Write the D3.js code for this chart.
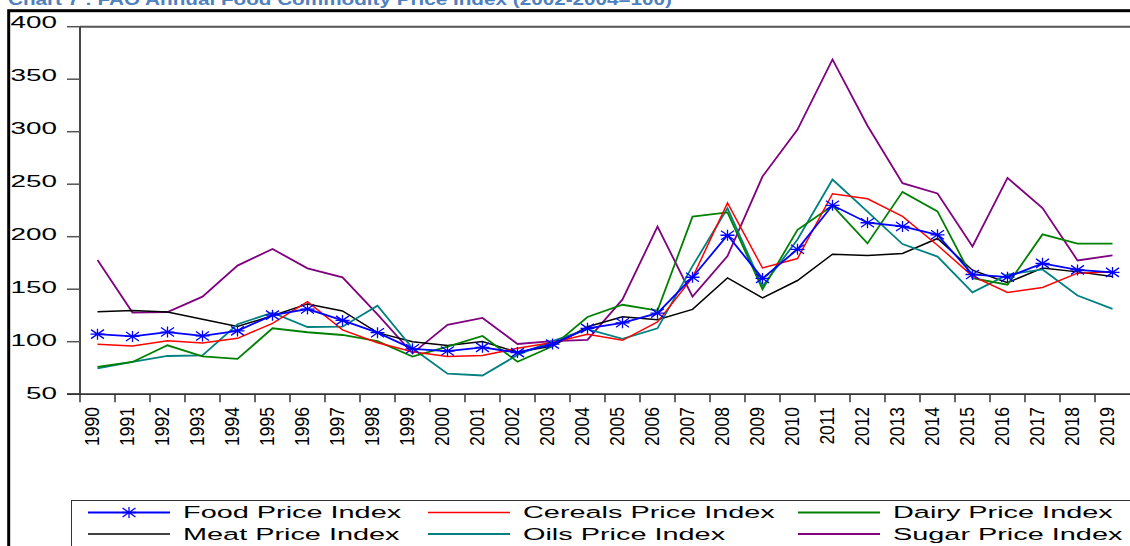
<!DOCTYPE html>
<html>
<head>
<meta charset="utf-8">
<script src="https://cdn.jsdelivr.net/npm/d3@7"></script>
<style>
  body { margin: 0; background: #fff; }
  svg { display: block; }
  text { font-family: "Liberation Sans", Arial, sans-serif; }
</style>
</head>
<body>
<svg id="chart" width="1130" height="546"></svg>
<script>
// FAO annual price indices (2002-2004 = 100)
const years = [1990, 1991, 1992, 1993, 1994, 1995, 1996, 1997, 1998, 1999,
               2000, 2001, 2002, 2003, 2004, 2005, 2006, 2007, 2008, 2009,
               2010, 2011, 2012, 2013, 2014, 2015, 2016, 2017, 2018, 2019];

const food    = [107.2, 105.0, 109.2, 105.5, 110.3, 125.3, 131.1, 120.3, 108.6, 93.2,
                 91.1, 94.6, 89.6, 97.7, 112.7, 118.0, 127.2, 161.4, 201.4, 160.3,
                 188.0, 229.9, 213.3, 209.8, 201.8, 164.0, 161.5, 174.6, 168.4, 166.0];
const cereals = [97.5, 96.0, 101.0, 98.8, 103.2, 117.5, 138.2, 111.2, 99.0, 90.5,
                 85.8, 86.8, 93.7, 99.2, 107.1, 101.3, 118.9, 161.0, 232.1, 170.2,
                 179.2, 240.9, 236.1, 219.3, 191.9, 162.4, 146.9, 151.6, 165.3, 166.5];
const dairy   = [76.0, 80.7, 96.6, 86.1, 83.6, 112.8, 109.0, 106.4, 100.5, 85.8,
                 95.3, 105.5, 80.9, 95.6, 123.5, 135.2, 129.7, 219.1, 223.1, 149.9,
                 206.6, 229.5, 193.6, 242.7, 224.1, 160.5, 154.3, 202.2, 193.4, 193.4];
const meat    = [128.6, 129.6, 128.3, 121.3, 114.4, 124.8, 136.0, 129.3, 108.6, 100.0,
                 96.5, 100.1, 89.9, 95.9, 114.2, 123.7, 120.9, 130.8, 160.7, 141.6,
                 158.3, 183.3, 182.0, 184.1, 198.3, 168.1, 156.2, 170.1, 166.5, 162.0];
const oils    = [74.7, 80.7, 86.4, 87.0, 116.6, 127.7, 114.0, 114.3, 134.3, 93.7,
                 69.5, 67.8, 87.4, 100.6, 111.9, 102.7, 112.7, 172.0, 227.1, 152.8,
                 197.4, 254.5, 223.9, 193.0, 181.1, 147.0, 163.8, 168.8, 144.0, 131.2];
const sugar   = [177.8, 127.7, 128.3, 142.9, 172.5, 188.3, 169.9, 161.3, 126.0, 88.9,
                 116.1, 122.6, 97.8, 100.6, 101.7, 140.3, 209.6, 143.0, 181.6, 257.3,
                 302.0, 368.9, 305.7, 251.0, 241.2, 190.7, 256.0, 227.3, 177.4, 182.3];

const yTicks = [50, 100, 150, 200, 250, 300, 350, 400];
const title = 'Chart 7 : FAO Annual Food Commodity Price Index (2002-2004=100)';

// drawing order = back to front
const series = [
  {name: 'Sugar Price Index',   values: sugar,   color: '#800080', width: 1.8},
  {name: 'Meat Price Index',    values: meat,    color: '#000000', width: 1.5},
  {name: 'Oils Price Index',    values: oils,    color: '#008080', width: 1.8},
  {name: 'Dairy Price Index',   values: dairy,   color: '#008000', width: 1.8},
  {name: 'Cereals Price Index', values: cereals, color: '#ff0000', width: 1.5},
  {name: 'Food Price Index',    values: food,    color: '#0000ff', width: 1.8, star: true}
];
// legend is laid out row by row, three per row
const legendOrder = ['Food Price Index', 'Cereals Price Index', 'Dairy Price Index',
                     'Meat Price Index', 'Oils Price Index', 'Sugar Price Index'];

const svg = d3.select('#chart');
const plot = {left: 80, right: 1130, top: 26.7, bottom: 394.2};

const x = d3.scaleBand().domain(years).range([plot.left, plot.right]);
const y = d3.scaleLinear().domain([50, 400]).range([plot.bottom, plot.top]);
// the tick labels in the original drift slightly off their ticks
const yLab = d3.scaleLinear().domain([50, 400]).range([393.2, 22.2]);
const xc = d => x(d) + x.bandwidth() / 2;

const star = 'M0,-5.5V5.5M-6.5,-4.5L6.5,4.5M-6.5,4.5L6.5,-4.5M-7,0H7';

// title, cut off at the top like in the source document
svg.append('text')
  .attr('x', 8).attr('y', 5)
  .attr('fill', '#4f81bd')
  .attr('textLength', 664).attr('lengthAdjust', 'spacingAndGlyphs')
  .style('font-size', '17px').style('font-weight', 'bold')
  .text(title);

// outer frame
svg.append('rect')
  .attr('x', 8.7).attr('y', 10.7).attr('width', 1300).attr('height', 700)
  .attr('fill', 'none').attr('stroke', '#000').attr('stroke-width', 3);

// plot frame: grey top line, axis on left
svg.append('line')
  .attr('x1', plot.left).attr('x2', plot.right + 5)
  .attr('y1', plot.top).attr('y2', plot.top)
  .attr('stroke', '#555').attr('stroke-width', 2);
svg.append('line')
  .attr('x1', plot.left).attr('x2', plot.left)
  .attr('y1', plot.top).attr('y2', plot.bottom)
  .attr('stroke', '#333').attr('stroke-width', 1.8);

// y ticks + labels
const gy = svg.append('g');
gy.selectAll('line').data(yTicks).join('line')
  .attr('x1', 67).attr('x2', plot.left)
  .attr('y1', d => y(d)).attr('y2', d => y(d))
  .attr('stroke', '#555').attr('stroke-width', 1.5);
gy.selectAll('text').data(yTicks).join('text')
  .attr('transform', d => `translate(57,${yLab(d)}) scale(1.64,1)`)
  .attr('dy', '0.36em')
  .attr('text-anchor', 'end')
  .style('font-size', '17px')
  .text(d => d);

// x axis: ticks on the band edges, labels rotated in the middle
const gx = svg.append('g');
gx.append('line')
  .attr('x1', 67).attr('x2', plot.right + 5)
  .attr('y1', plot.bottom).attr('y2', plot.bottom)
  .attr('stroke', '#333').attr('stroke-width', 1.8);
gx.selectAll('line.tick').data(years).join('line')
  .attr('class', 'tick')
  .attr('x1', d => x(d)).attr('x2', d => x(d))
  .attr('y1', plot.bottom).attr('y2', plot.bottom + 8)
  .attr('stroke', '#333').attr('stroke-width', 1.5);
// glyphs are a bit wider than tall in the original, so stretch across
gx.selectAll('text').data(years).join('text')
  .attr('transform', d => `translate(${xc(d) + 1},407) rotate(-90) scale(1,1.2)`)
  .attr('text-anchor', 'end')
  .style('font-size', '17.5px')
  .text(d => d);

// series lines
const line = d3.line()
  .x((d, i) => xc(years[i]))
  .y(d => y(d));

const gs = svg.append('g');
series.forEach(s => {
  gs.append('path')
    .datum(s.values)
    .attr('d', line)
    .attr('fill', 'none')
    .attr('stroke', s.color)
    .attr('stroke-width', s.width)
    .attr('stroke-linejoin', 'miter');
  if (s.star) {
    gs.selectAll(null).data(s.values).join('path')
      .attr('transform', (d, i) => `translate(${xc(years[i])},${y(d)})`)
      .attr('d', star)
      .attr('stroke', s.color).attr('stroke-width', 1.3).attr('fill', 'none');
  }
});

// legend box
const lg = svg.append('g');
lg.append('rect')
  .attr('x', 71.5).attr('y', 500.5).attr('width', 1100).attr('height', 80)
  .attr('fill', '#fff').attr('stroke', '#333').attr('stroke-width', 1);

const colX = [88, 428, 798];
const rowY = [512.5, 534];
legendOrder.forEach((name, i) => {
  const s = series.find(d => d.name === name);
  const lx = colX[i % 3], ly = rowY[Math.floor(i / 3)];
  lg.append('line')
    .attr('x1', lx).attr('x2', lx + 82)
    .attr('y1', ly).attr('y2', ly)
    .attr('stroke', s.color).attr('stroke-width', s.width);
  if (s.star) {
    lg.append('path')
      .attr('transform', `translate(${lx + 41},${ly})`)
      .attr('d', star)
      .attr('stroke', s.color).attr('stroke-width', 1.3).attr('fill', 'none');
  }
  lg.append('text')
    .attr('transform', `translate(${lx + 95},${ly}) scale(1.75,1)`)
    .attr('dy', '0.36em')
    .style('font-size', '16.5px')
    .text(name);
});
</script>
</body>
</html>
